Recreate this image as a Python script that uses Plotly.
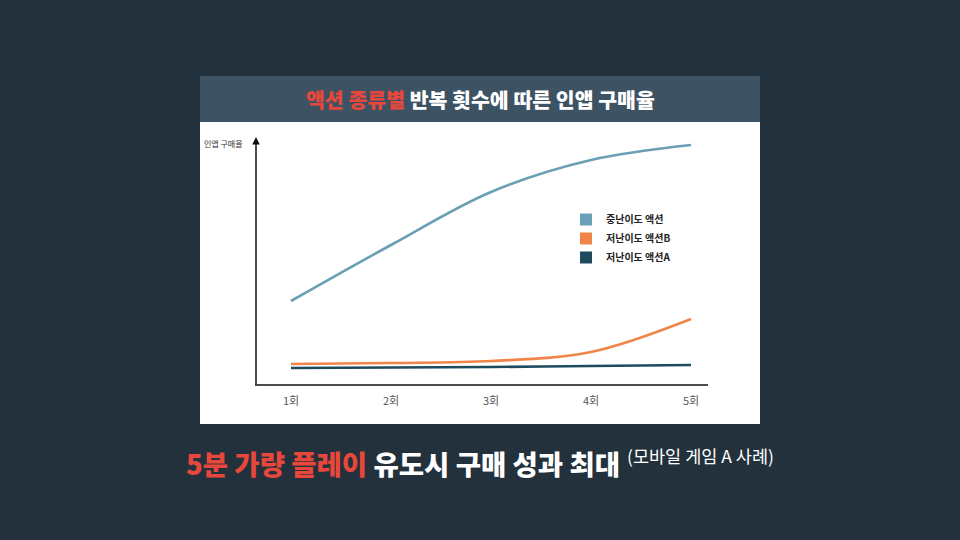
import plotly.graph_objects as go

# 반복 횟수별 인앱 구매율 (그림에서 읽은 상대값)
rounds = ["1회", "2회", "3회", "4회", "5회"]
mid_action = [84, 140, 193, 225, 240]
low_action_b = [21, 22, 24, 33, 66]
low_action_a = [17, 17.5, 18, 19, 20]

series_names = ["중난이도 액션", "저난이도 액션B", "저난이도 액션A"]
series_colors = ["#6b9fb6", "#f0844a", "#1e4a5e"]

W, H = 960, 540
BG = "#22313b"
HEADER = "#3d5263"
RED = "#e8473c"
FONT = "Noto Sans CJK KR"


def px(x):
    return x / W


def py(y):
    return 1 - y / H


fig = go.Figure()

for name, vals, color in zip(series_names, [mid_action, low_action_b, low_action_a], series_colors):
    fig.add_trace(go.Scatter(
        x=[1, 2, 3, 4, 5], y=vals, mode="lines",
        line=dict(color=color, width=2.6, shape="spline", smoothing=1.0),
        showlegend=False, hoverinfo="skip",
    ))
    # legend swatch
    fig.add_trace(go.Scatter(
        x=[None], y=[None], mode="markers", name=name,
        marker=dict(symbol="square", size=9, color=color),
    ))

fig.update_layout(
    width=W, height=H,
    margin=dict(l=0, r=0, t=0, b=0),
    paper_bgcolor=BG,
    plot_bgcolor="white",
    font=dict(family=FONT, color="#222"),
    xaxis=dict(
        domain=[px(255), px(708)], range=[0.64, 5.17],
        tickvals=[1, 2, 3, 4, 5], ticktext=rounds,
        showgrid=False, zeroline=False, showline=False,
        ticks="", ticklabelstandoff=8,
        tickfont=dict(size=11, color="#555", family=FONT),
    ),
    yaxis=dict(
        domain=[py(385), py(138)], range=[0, 247],
        showgrid=False, zeroline=False, showline=False,
        showticklabels=False, ticks="",
    ),
    legend=dict(
        x=px(566), y=py(205), xanchor="left", yanchor="top",
        bgcolor="rgba(0,0,0,0)",
        font=dict(size=10, color="#222", family=FONT, weight="bold"),
        itemsizing="constant", tracegroupgap=4,
    ),
    shapes=[
        # white panel
        dict(type="rect", xref="paper", yref="paper", x0=px(200), x1=px(760),
             y0=py(424), y1=py(76), fillcolor="white", line=dict(width=0), layer="below"),
        # header bar
        dict(type="rect", xref="paper", yref="paper", x0=px(200), x1=px(760),
             y0=py(122), y1=py(76), fillcolor=HEADER, line=dict(width=0), layer="below"),
        # x axis line
        dict(type="line", xref="paper", yref="paper", x0=px(255), x1=px(708),
             y0=py(385), y1=py(385), line=dict(color="#111", width=1.5)),
    ],
    annotations=[
        # y axis with arrow
        dict(xref="paper", yref="paper", x=px(256), y=py(137), ax=0, ay=249,
             showarrow=True, arrowhead=2, arrowsize=1.0,
             arrowwidth=1.5, arrowcolor="#111", text=""),
        dict(xref="paper", yref="paper", x=px(245), y=py(143), xanchor="right", yanchor="middle",
             showarrow=False, text="인앱 구매율", font=dict(size=8, color="#333", family=FONT)),
        dict(xref="paper", yref="paper", x=px(480), y=py(99), xanchor="center", yanchor="middle",
             showarrow=False,
             text=f"<span style='color:{RED}'>액션 종류별</span> 반복 횟수에 따른 인앱 구매율",
             font=dict(size=20.5, color="white", family=FONT, weight=900)),
        dict(xref="paper", yref="paper", x=px(184), y=py(463), xanchor="left", yanchor="middle",
             showarrow=False,
             text=f"<span style='color:{RED}'>5분 가량 플레이</span> 유도시 구매 성과 최대",
             font=dict(size=27.5, color="white", family=FONT, weight=900)),
        dict(xref="paper", yref="paper", x=px(625), y=py(455), xanchor="left", yanchor="middle",
             showarrow=False, text="(모바일 게임 A 사례)",
             font=dict(size=17.5, color="white", family=FONT)),
    ],
)

fig.write_html(
    "out.html",
    config={"displayModeBar": False},
    post_script="document.body.style.margin='0';document.body.style.overflow='hidden';",
)
